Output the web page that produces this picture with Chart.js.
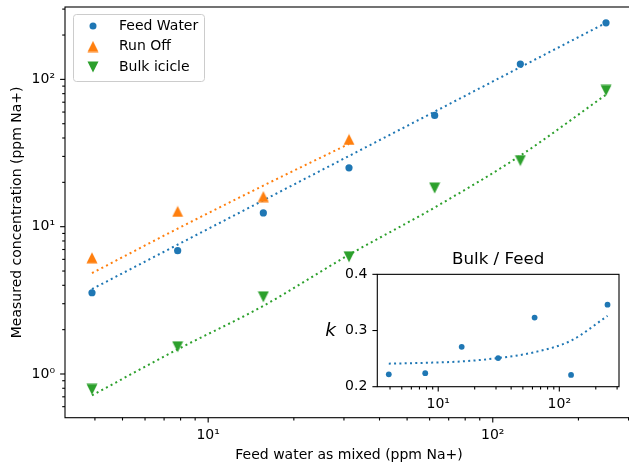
<!DOCTYPE html>
<html>
<head>
<meta charset="utf-8">
<script src="https://cdn.jsdelivr.net/npm/chart.js@4.4.0/dist/chart.umd.min.js"></script>
<style>
html, body { margin: 0; padding: 0; background: #fff; overflow: hidden; }
#wrap { position: relative; width: 629px; height: 466px; overflow: hidden; }
#main { position: absolute; left: 0; top: 0; }
#inset { position: absolute; left: 310px; top: 245px; }
</style>
</head>
<body>
<div id="wrap">
  <canvas id="main" width="640" height="466"></canvas>
  <canvas id="inset" width="319" height="175"></canvas>
</div>
<script>
// feed water as mixed (ppm Na+)
var feedMixed = [3.90625, 7.8125, 15.625, 31.25, 62.5, 125, 250];
// measured concentrations
var feedWater = [3.56, 6.87, 12.4, 25.1, 56.9, 127, 242];
var runOff = [6.15, 12.7, 16.0, 39.1];
var bulkIcicle = [0.787, 1.53, 3.34, 6.25, 18.3, 28.1, 84.2];
// fitted lines
var feedFit = [3.77, 7.55, 15.1, 30.2, 60.4, 121, 242];
var runOffFit = [4.84, 9.7, 19.0, 36.5];
var bulkFit = [0.716, 1.47, 2.90, 6.45, 13.5, 30.4, 78.7];
// inset: k = bulk / feed
var kRatio = [0.222, 0.224, 0.271, 0.251, 0.323, 0.221, 0.346];
var kFit = [0.241, 0.2425, 0.245, 0.251, 0.2615, 0.282, 0.326];

var seriesNames = ['Feed Water', 'Run Off', 'Bulk icicle'];

// ticks
var xTicks = [4, 5, 6, 7, 8, 9, 10, 20, 30, 40, 50, 60, 70, 80, 90, 100, 200, 300];
var xMajor = [10, 100];
var xLabels = ['10\u00b9', '10\u00b2'];
var yTicks = [0.6, 0.7, 0.8, 0.9, 1, 2, 3, 4, 5, 6, 7, 8, 9, 10, 20, 30, 40, 50, 60, 70, 80, 90, 100, 200, 300];
var yMajor = [1, 10, 100];
var yLabels = ['10\u2070', '10\u00b9', '10\u00b2'];
var kTicks = [0.2, 0.3, 0.4];
var kLabels = ['0.2', '0.3', '0.4'];

var blue = '#1f77b4', orange = '#ff7f0e', green = '#2ca02c';
var font = 'DejaVu Sans';

pts = (xs, ys) => ys.map((y, i) => ({ x: xs[i], y: y }));

triangle = (color, down) => {
    var c = document.createElement('canvas');
    c.width = 12; c.height = 12;
    var g = c.getContext('2d');
    g.fillStyle = color;
    g.beginPath();
    if (down) { g.moveTo(0.5, 0.5); g.lineTo(11.5, 0.5); g.lineTo(6, 11.5); }
    else { g.moveTo(6, 0.5); g.lineTo(11.5, 11.5); g.lineTo(0.5, 11.5); }
    g.closePath();
    g.fill();
    return c;
}
var triUp = triangle(orange, false);
var triDown = triangle(green, true);

labelFor = (v, majors, labels) => {
    var i = majors.indexOf(v);
    return i >= 0 ? labels[i] : '';
}

// fixed axis sizes, no extra padding for edge labels
fitX = (h) => (s) => { s.height = h; s.paddingLeft = 0; s.paddingRight = 0; };
fitY = (w) => (s) => { s.width = w; s.paddingTop = 0; s.paddingBottom = 0; };

// matplotlib-like ticks (major longer than minor) and the box
drawAxes = (chart, xs, xm, ys, ym) => {
    var ctx = chart.ctx, a = chart.chartArea;
    var sx = chart.scales.x, sy = chart.scales.y;
    ctx.save();
    ctx.strokeStyle = '#000';
    ctx.lineWidth = 1.1;
    xs.forEach(v => {
        var p = sx.getPixelForValue(v);
        var len = xm.indexOf(v) >= 0 ? 4.9 : 2.8;
        ctx.beginPath(); ctx.moveTo(p, a.bottom); ctx.lineTo(p, a.bottom + len); ctx.stroke();
    });
    ys.forEach(v => {
        var p = sy.getPixelForValue(v);
        var len = ym.indexOf(v) >= 0 ? 4.9 : 2.8;
        ctx.beginPath(); ctx.moveTo(a.left, p); ctx.lineTo(a.left - len, p); ctx.stroke();
    });
    ctx.strokeRect(a.left, a.top, a.right - a.left, a.bottom - a.top);
    ctx.restore();
}

var mainPlugin = {
    id: 'mainDecor',
    afterDraw: (chart) => {
        drawAxes(chart, xTicks, xMajor, yTicks, yMajor);
        // legend box
        var ctx = chart.ctx;
        ctx.save();
        ctx.fillStyle = 'rgba(255,255,255,0.8)';
        ctx.strokeStyle = '#cccccc';
        ctx.lineWidth = 1;
        ctx.beginPath();
        ctx.roundRect(73.5, 14.5, 131, 67, 3);
        ctx.fill();
        ctx.stroke();
        var rows = [26, 46.5, 67];
        ctx.fillStyle = blue;
        ctx.beginPath(); ctx.arc(93, rows[0], 3.5, 0, Math.PI * 2); ctx.fill();
        ctx.drawImage(triUp, 93 - 6, rows[1] - 6);
        ctx.drawImage(triDown, 93 - 6, rows[2] - 6);
        ctx.fillStyle = '#000';
        ctx.font = '14px "' + font + '"';
        ctx.textBaseline = 'middle';
        ctx.textAlign = 'left';
        seriesNames.forEach((n, i) => ctx.fillText(n, 119, rows[i]));
        ctx.restore();
    }
};

var insetPlugin = {
    id: 'insetDecor',
    beforeDraw: (chart) => {
        var a = chart.chartArea, ctx = chart.ctx;
        ctx.save();
        ctx.fillStyle = '#fff';
        ctx.fillRect(a.left, a.top, a.right - a.left, a.bottom - a.top);
        ctx.restore();
    },
    afterDraw: (chart) => {
        drawAxes(chart, xTicks, xMajor, kTicks, kTicks);
        var ctx = chart.ctx;
        ctx.save();
        ctx.fillStyle = '#000';
        ctx.font = 'italic 18.5px "' + font + '"';
        ctx.textAlign = 'center';
        ctx.textBaseline = 'alphabetic';
        ctx.fillText('k', 20.5, 91);
        ctx.restore();
    }
};

var tickFont = { family: font, size: 14 };
var fitLine = { showLine: true, pointRadius: 0, borderWidth: 2, borderDash: [2, 3.3],
                cubicInterpolationMode: 'monotone' };

new Chart(document.getElementById('main').getContext('2d'), {
    type: 'scatter',
    data: {
        datasets: [
            { label: seriesNames[0], data: pts(feedMixed, feedWater), pointStyle: 'circle', pointRadius: 3.6,
              backgroundColor: blue, borderColor: blue, pointBorderWidth: 0 },
            { label: seriesNames[1], data: pts(feedMixed, runOff), pointStyle: triUp, pointRadius: 6,
              backgroundColor: orange, borderColor: orange },
            { label: seriesNames[2], data: pts(feedMixed, bulkIcicle), pointStyle: triDown, pointRadius: 6,
              backgroundColor: green, borderColor: green },
            Object.assign({ data: pts(feedMixed, feedFit), borderColor: blue }, fitLine),
            Object.assign({ data: pts(feedMixed, runOffFit), borderColor: orange }, fitLine),
            Object.assign({ data: pts(feedMixed, bulkFit), borderColor: green }, fitLine)
        ]
    },
    options: {
        responsive: false,
        animation: false,
        layout: { padding: { top: 6.7, right: 5, left: 0, bottom: 0 } },
        plugins: { legend: { display: false }, tooltip: { enabled: false } },
        scales: {
            x: {
                type: 'logarithmic', min: 3.14, max: 311,
                afterBuildTicks: (s) => { s.ticks = xTicks.map(v => ({ value: v })); },
                afterFit: fitX(48.3),
                grid: { drawOnChartArea: false, tickLength: 5, tickColor: 'rgba(0,0,0,0)' },
                border: { display: false },
                ticks: { autoSkip: false, maxRotation: 0, padding: 4, color: '#000', font: tickFont,
                         callback: (v) => labelFor(v, xMajor, xLabels) },
                title: { display: true, text: 'Feed water as mixed (ppm Na+)', color: '#000',
                         font: tickFont, padding: { top: 0, bottom: 2.6 } }
            },
            y: {
                type: 'logarithmic', min: 0.505, max: 310,
                afterBuildTicks: (s) => { s.ticks = yTicks.map(v => ({ value: v })); },
                afterFit: fitY(65),
                grid: { drawOnChartArea: false, tickLength: 5, tickColor: 'rgba(0,0,0,0)' },
                border: { display: false },
                ticks: { autoSkip: false, padding: 5, color: '#000', font: tickFont,
                         callback: (v) => labelFor(v, yMajor, yLabels) },
                title: { display: true, text: 'Measured concentration (ppm Na+)', color: '#000',
                         font: tickFont, padding: { top: 9.3, bottom: 0 } }
            }
        }
    },
    plugins: [mainPlugin]
});

new Chart(document.getElementById('inset').getContext('2d'), {
    type: 'scatter',
    data: {
        datasets: [
            { data: pts(feedMixed, kRatio), pointStyle: 'circle', pointRadius: 2.9,
              backgroundColor: blue, borderColor: blue, pointBorderWidth: 0 },
            Object.assign({ data: pts(feedMixed, kFit), borderColor: blue }, fitLine)
        ]
    },
    options: {
        responsive: false,
        animation: false,
        layout: { padding: { top: 0, right: 10, left: 0, bottom: 0 } },
        plugins: {
            legend: { display: false },
            tooltip: { enabled: false },
            title: { display: true, text: 'Bulk / Feed', fullSize: false, color: '#000',
                     font: { family: font, size: 16.7, weight: 'normal' }, padding: { top: 5, bottom: 4.3 } }
        },
        scales: {
            x: {
                type: 'logarithmic', min: 3.14, max: 311,
                afterBuildTicks: (s) => { s.ticks = xTicks.map(v => ({ value: v })); },
                afterFit: fitX(33.3),
                grid: { drawOnChartArea: false, tickLength: 5, tickColor: 'rgba(0,0,0,0)' },
                border: { display: false },
                ticks: { autoSkip: false, maxRotation: 0, padding: 4, color: '#000', font: tickFont,
                         callback: (v) => labelFor(v, xMajor, xLabels) }
            },
            y: {
                type: 'linear', min: 0.2, max: 0.4,
                afterBuildTicks: (s) => { s.ticks = kTicks.map(v => ({ value: v })); },
                afterFit: fitY(67.3),
                grid: { drawOnChartArea: false, tickLength: 5, tickColor: 'rgba(0,0,0,0)' },
                border: { display: false },
                ticks: { autoSkip: false, padding: 5, color: '#000', font: tickFont,
                         callback: (v) => labelFor(v, kTicks, kLabels) }
            }
        }
    },
    plugins: [insetPlugin]
});
</script>
</body>
</html>
